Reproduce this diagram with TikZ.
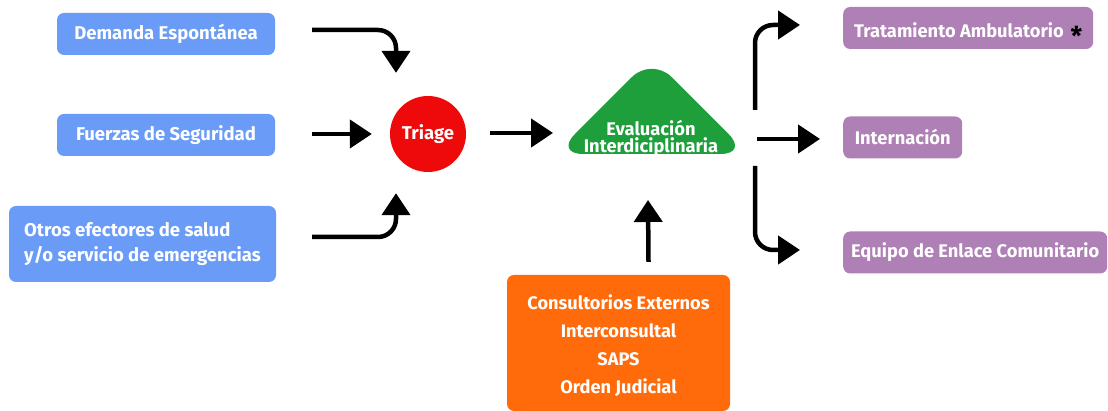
\documentclass[tikz,border=0pt]{standalone}
\usepackage{fontspec}
\setmainfont{Fira Sans}
\usetikzlibrary{arrows.meta,calc}
\definecolor{ingresoBlue}{HTML}{6A9CF7}
\definecolor{triageRed}{HTML}{EE0A0A}
\definecolor{evalGreen}{HTML}{1F9E3C}
\definecolor{derivOrange}{HTML}{FF6A0A}
\definecolor{egresoPurple}{HTML}{AE80B5}

\tikzset{
  srcbox/.style={fill=ingresoBlue,rounded corners=7pt,text=white,font=\fontsize{18.5}{25}\selectfont\bfseries,
    minimum height=42pt,inner xsep=4pt,align=left},
  outbox/.style={fill=egresoPurple,rounded corners=7pt,text=white,font=\fontsize{18.3}{25}\selectfont\bfseries,
    minimum height=42pt,inner xsep=4pt,anchor=west,align=left},
  flecha/.style={line width=4.5pt,-{Triangle[length=22pt,width=28pt]},rounded corners=18pt}
}

\begin{document}
\begin{tikzpicture}[x=1pt,y=1pt]
  \useasboundingbox[fill=white] (0,0) rectangle (1108,411);
  % entradas
  \node[srcbox,minimum width=218pt] (demanda) at (166,377) {Demanda Espontánea};
  \node[srcbox,minimum width=218pt] (fuerzas) at (166,276) {Fuerzas de Seguridad};
  \node[srcbox,minimum width=267pt,minimum height=76pt] (otros) at (142.5,167)
    {Otros efectores de salud\\y/o servicio de emergencias};
  \node[circle,fill=triageRed,minimum size=76pt,text=white,font=\fontsize{18.5}{20}\selectfont\bfseries] (triage) at (428,277) {Triage};
  % evaluacion
  \fill[evalGreen,rounded corners=28pt] (555,257) -- (748.5,257) -- (651.75,353.75) -- cycle;
  \node[text=white,font=\fontsize{18.3}{17}\selectfont\bfseries,align=center] (eval) at (651,273)
    {Evaluación\\Interdiciplinaria};
  \node[fill=derivOrange,rounded corners=7pt,text=white,font=\fontsize{18.2}{28}\selectfont\bfseries,align=center,
    minimum width=223pt,minimum height=136pt] (deriv) at (618.5,68)
    {\rule{0pt}{20pt}Consultorios Externos\\Interconsultal\\SAPS\\Orden Judicial};
  % salidas
  \node[outbox,minimum width=250pt] (tratam) at (843,383)
    {\rule{0pt}{20pt}Tratamiento Ambulatorio\hspace{7pt}\raisebox{-8pt}[0pt][0pt]{\textcolor{black}{\fontsize{26}{26}\selectfont *}}};
  \node[outbox,minimum width=119pt] (intern) at (843,273.5) {Internación};
  \node[outbox,minimum width=264pt] (equipo) at (843,158.5) {Equipo de Enlace Comunitario};
  % flechas
  \draw[flecha] ([xshift=37pt,yshift=4pt]demanda.east) -| ([xshift=-32pt,yshift=23pt]triage.north);
  \draw[flecha] ([xshift=37pt,yshift=1pt]fuerzas.east) -- ([xshift=-18pt]triage.west);
  \draw[flecha] ([xshift=36pt,yshift=7pt]otros.east) -| ([xshift=-32pt,yshift=-21pt]triage.south);
  \draw[flecha] ([xshift=24pt,yshift=1pt]triage.east) -- ($(eval)+(-98,5)$);
  \draw[flecha] ([xshift=30pt,yshift=13pt]deriv.north) -- ($(eval)+(-3,-62)$);
  \draw[flecha] ($(eval)+(104,28)$) |- ([xshift=-43pt,yshift=3pt]tratam.west);
  \draw[flecha] ($(eval)+(106,-1)$) -- ([xshift=-23pt,yshift=-1.5pt]intern.west);
  \draw[flecha] ($(eval)+(104,-28)$) |- ([xshift=-43pt,yshift=2.5pt]equipo.west);
\end{tikzpicture}
\end{document}
